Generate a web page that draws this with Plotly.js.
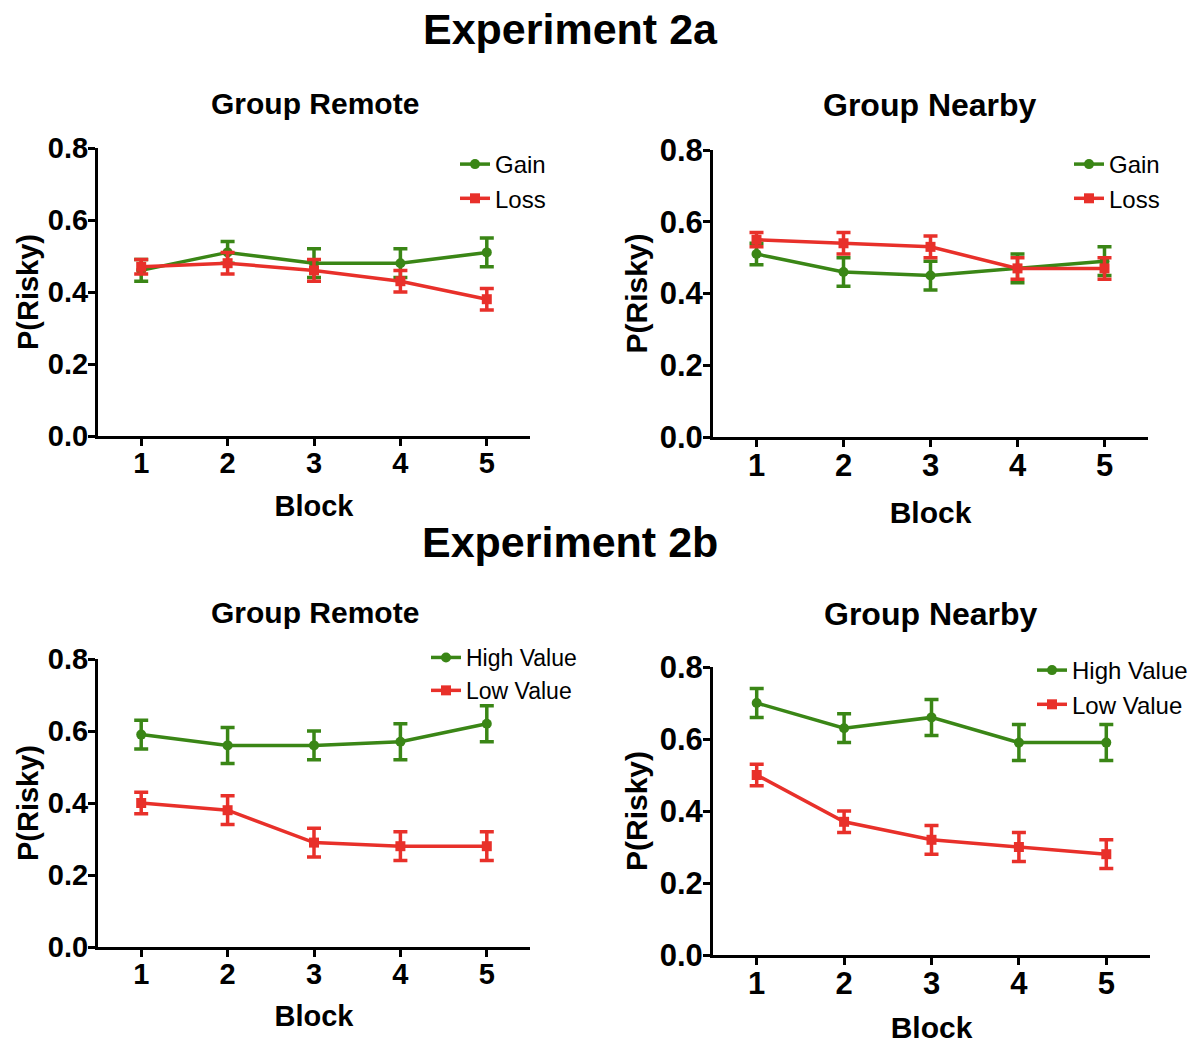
<!DOCTYPE html>
<html>
<head>
<meta charset="utf-8">
<script src="https://cdn.plot.ly/plotly-3.0.1.min.js"></script>
<style>html,body{margin:0;padding:0;background:#fff;}#chart{width:1197px;height:1044px;}</style>
</head>
<body>
<div id="chart"></div>
<script>
// ---- data ----
const blocks = [1, 2, 3, 4, 5];
const tickLabels = ['1', '2', '3', '4', '5'];
const yTicks = [0, 0.2, 0.4, 0.6, 0.8];
const yTickLabels = ['0.0', '0.2', '0.4', '0.6', '0.8'];

// Experiment 2a - Group Remote
const e2aRemoteGain = [0.46, 0.51, 0.48, 0.48, 0.51];
const e2aRemoteGainErr = [0.03, 0.03, 0.04, 0.04, 0.04];
const e2aRemoteLoss = [0.47, 0.48, 0.46, 0.43, 0.38];
const e2aRemoteLossErr = [0.02, 0.03, 0.03, 0.03, 0.03];
// Experiment 2a - Group Nearby
const e2aNearbyGain = [0.51, 0.46, 0.45, 0.47, 0.49];
const e2aNearbyGainErr = [0.03, 0.04, 0.04, 0.04, 0.04];
const e2aNearbyLoss = [0.55, 0.54, 0.53, 0.47, 0.47];
const e2aNearbyLossErr = [0.02, 0.03, 0.03, 0.03, 0.03];
// Experiment 2b - Group Remote
const e2bRemoteHigh = [0.59, 0.56, 0.56, 0.57, 0.62];
const e2bRemoteHighErr = [0.04, 0.05, 0.04, 0.05, 0.05];
const e2bRemoteLow = [0.40, 0.38, 0.29, 0.28, 0.28];
const e2bRemoteLowErr = [0.03, 0.04, 0.04, 0.04, 0.04];
// Experiment 2b - Group Nearby
const e2bNearbyHigh = [0.70, 0.63, 0.66, 0.59, 0.59];
const e2bNearbyHighErr = [0.04, 0.04, 0.05, 0.05, 0.05];
const e2bNearbyLow = [0.50, 0.37, 0.32, 0.30, 0.28];
const e2bNearbyLowErr = [0.03, 0.03, 0.04, 0.04, 0.04];

// ---- styles ----
const GREEN = '#3a8616';
const RED = '#e8302a';
const FONT = 'Liberation Sans, Arial, Helvetica, sans-serif';

function series(name, y, err, color, symbol, xa, ya, legend) {
  return {
    type: 'scatter', mode: 'lines+markers', name: name,
    x: blocks, y: y, xaxis: xa, yaxis: ya, legend: legend,
    line: {color: color, width: 3.5},
    marker: {color: color, symbol: symbol, size: 10},
    error_y: {type: 'data', array: err, visible: true, color: color, thickness: 3.5, width: 7},
    cliponaxis: false
  };
}

const data = [
  series('Gain', e2aRemoteGain, e2aRemoteGainErr, GREEN, 'circle', 'x', 'y', 'legend'),
  series('Loss', e2aRemoteLoss, e2aRemoteLossErr, RED, 'square', 'x', 'y', 'legend'),
  series('Gain', e2aNearbyGain, e2aNearbyGainErr, GREEN, 'circle', 'x2', 'y2', 'legend2'),
  series('Loss', e2aNearbyLoss, e2aNearbyLossErr, RED, 'square', 'x2', 'y2', 'legend2'),
  series('High Value', e2bRemoteHigh, e2bRemoteHighErr, GREEN, 'circle', 'x3', 'y3', 'legend3'),
  series('Low Value', e2bRemoteLow, e2bRemoteLowErr, RED, 'square', 'x3', 'y3', 'legend3'),
  series('High Value', e2bNearbyHigh, e2bNearbyHighErr, GREEN, 'circle', 'x4', 'y4', 'legend4'),
  series('Low Value', e2bNearbyLow, e2bNearbyLowErr, RED, 'square', 'x4', 'y4', 'legend4')
];

const W = 1197, H = 1044;
function px(x) { return x / W; }
function py(y) { return 1 - y / H; }

function xax(x0, x1, fs, tfs, standoff) {
  return {
    domain: [px(x0), px(x1)], range: [0.5, 5.5], fixedrange: true,
    tickvals: blocks, ticktext: tickLabels,
    ticks: 'outside', ticklen: 7, tickwidth: 3, tickcolor: '#000',
    ticklabelstandoff: -8,
    showline: true, linewidth: 3, linecolor: '#000', showgrid: false, zeroline: false,
    tickfont: {family: FONT, size: fs, color: '#000', weight: 'bold'},
    title: {text: 'Block', standoff: standoff, font: {family: FONT, size: tfs, color: '#000', weight: 'bold'}}
  };
}
function yax(y0, y1, fs, tfs, anchor, standoff) {
  return {
    domain: [py(y1), py(y0)], range: [0, 0.8], fixedrange: true, anchor: anchor,
    tickvals: yTicks, ticktext: yTickLabels,
    ticks: 'outside', ticklen: 7, tickwidth: 3, tickcolor: '#000',
    ticklabelstandoff: -6,
    showline: true, linewidth: 3, linecolor: '#000', showgrid: false, zeroline: false,
    tickfont: {family: FONT, size: fs, color: '#000', weight: 'bold'},
    title: {text: 'P(Risky)', standoff: standoff, font: {family: FONT, size: tfs, color: '#000', weight: 'bold'}}
  };
}
function leg(xLeft, yTop, fs) {
  return {
    x: px(xLeft), y: py(yTop), xanchor: 'left', yanchor: 'top', xref: 'paper', yref: 'paper',
    bgcolor: 'rgba(0,0,0,0)', borderwidth: 0, itemwidth: 30, tracegroupgap: 0,
    font: {family: FONT, size: fs, color: '#000'}
  };
}
function ann(text, x, y, size) {
  return {text: text, x: px(x), y: py(y), xref: 'paper', yref: 'paper',
    xanchor: 'center', yanchor: 'middle', showarrow: false,
    font: {family: FONT, size: size, color: '#000', weight: 'bold'}};
}

const layout = {
  width: W, height: H, margin: {l: 0, r: 0, t: 0, b: 0},
  paper_bgcolor: '#fff', plot_bgcolor: '#fff',
  xaxis: xax(98, 530, 29, 29, 18),
  yaxis: yax(148, 436, 29, 29, 'x', 1),
  xaxis2: Object.assign(xax(713, 1148, 31, 30, 20), {anchor: 'y2'}),
  yaxis2: yax(150, 437, 31, 30, 'x2', 4),
  xaxis3: Object.assign(xax(98, 530, 29, 29, 17), {anchor: 'y3'}),
  yaxis3: yax(659, 947, 29, 29, 'x3', 1),
  xaxis4: Object.assign(xax(713, 1150, 31, 30, 24), {anchor: 'y4'}),
  yaxis4: yax(667, 955, 31, 30, 'x4', 4),
  legend: leg(455, 142, 24),
  legend2: leg(1069, 142, 24),
  legend3: leg(426, 636, 23),
  legend4: leg(1032, 648, 24),
  annotations: [
    ann('Experiment 2a', 570, 29, 43),
    ann('Group Remote', 315, 103, 30),
    ann('Group Nearby', 930, 105, 32),
    ann('Experiment 2b', 570, 542, 43),
    ann('Group Remote', 315, 612, 30),
    ann('Group Nearby', 931, 614, 32)
  ]
};
Plotly.newPlot('chart', data, layout, {displayModeBar: false, staticPlot: true});
</script>
</body>
</html>
